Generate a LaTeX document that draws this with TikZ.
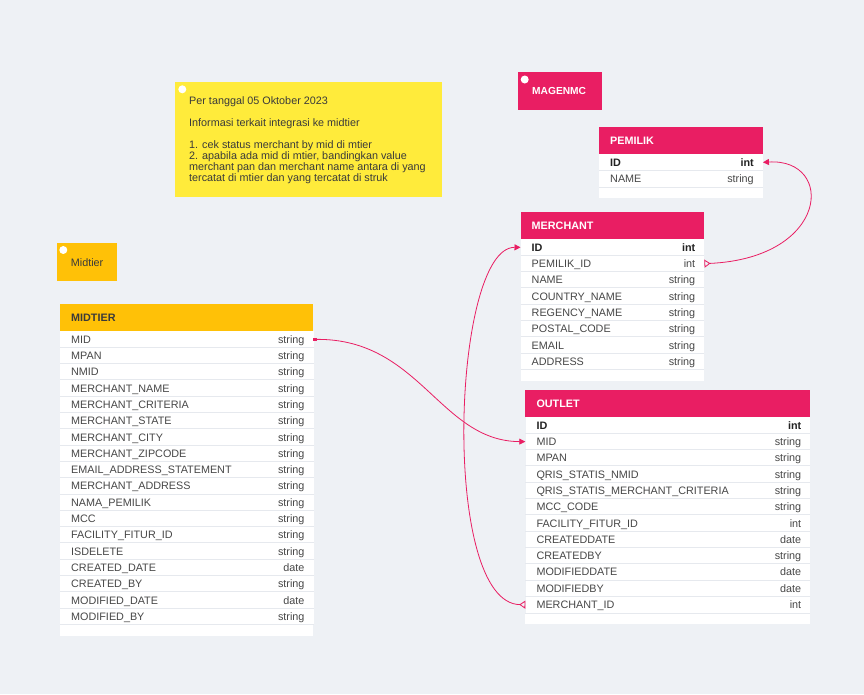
\documentclass[tikz,border=0pt]{standalone}
\usepackage{fontspec}
\setmainfont{Liberation Sans}
\usetikzlibrary{arrows.meta}
\definecolor{bg}{HTML}{EEF1F5}
\definecolor{pinkc}{HTML}{E91E63}
\definecolor{amberc}{HTML}{FFC107}
\definecolor{notey}{HTML}{FFEB3B}
\definecolor{txt}{HTML}{474747}
\definecolor{darkc}{HTML}{222222}
\definecolor{hdrdark}{HTML}{3A3A3A}
\definecolor{sepc}{HTML}{E6E9EE}
\newcommand\rowfont{\fontsize{10.8}{13}\selectfont}
\tikzset{
  rowcell/.style={fill=white, draw=none, inner sep=0pt, minimum height=16.3pt},
  rowtext/.style={font=\rowfont, text=txt, inner sep=0pt},
  hdrtext/.style={font=\rowfont\bfseries, inner sep=0pt},
  notetext/.style={font=\rowfont, text=hdrdark, inner sep=0pt, anchor=base west},
  tagdot/.style={fill=white, circle, inner sep=0pt, minimum size=8pt},
  conn/.style={draw=pinkc, line width=0.8pt},
  onetip/.style={-{Triangle[length=6pt,width=6pt]}},
  manytip/.style={{Triangle[open,reversed,length=6pt,width=8pt]}-{Triangle[length=6pt,width=6pt]}}
}
% #1 id, #2 x, #3 y, #4 width, #5 header fill, #6 header text colour, #7 title, #8 rows, #9 number of rows
\newcommand\erdtab[9]{%
  \fill[#5] (#2,#3) rectangle ++(#4,27);
  \node[hdrtext, text=#6, anchor=base west] (#1-title) at ({#2+11},{#3+17.5}) {#7};
  \foreach \nm/\ty/\st [count=\i] in {#8} {
    \node[rowcell, minimum width=#4pt, anchor=north west] (#1-\i) at ({#2},{#3+27+(\i-1)*16.3}) {};
    \ifnum\i>1 \draw[sepc, line width=1pt] (#1-\i.north west) -- (#1-\i.north east);\fi
    \node[rowtext, anchor=base west] (#1-\i-n) at ([xshift=11pt,yshift=-3.9pt]#1-\i.west) {\st\nm};
    \node[rowtext, anchor=base east] (#1-\i-t) at ([xshift=-9pt,yshift=-3.9pt]#1-\i.east) {\st\ty};
  }
  \fill[white] (#1-#9.south west) rectangle ++(#4,11);
  \draw[sepc, line width=1pt] (#1-#9.south west) -- (#1-#9.south east);
}
\begin{document}
\begin{tikzpicture}[x=1pt,y=-1pt]
\fill[bg] (0,0) rectangle (864,694);
\useasboundingbox (0,0) rectangle (864,694);

% note
\fill[notey] (175,82) rectangle (442,196.5);
\node[tagdot] (notedot) at (182.3,89.3) {};
\node[notetext] (n1) at (189,104) {Per tanggal 05 Oktober 2023};
\node[notetext] (n2) at (189,126) {Informasi terkait integrasi ke midtier};
\node[notetext] (n3) at (189,148) {1. cek status merchant by mid di mtier};
\node[notetext] (n4) at (189,159.3) {2. apabila ada mid di mtier, bandingkan value};
\node[notetext] (n5) at (189,170.6) {merchant pan dan merchant name antara di yang};
\node[notetext] (n6) at (189,181.9) {tercatat di mtier dan yang tercatat di struk};

% tags
\fill[pinkc] (517.5,72.3) rectangle (602,110);
\node[tagdot] (magdot) at (524.7,79.5) {};
\node[font=\fontsize{10.2}{12}\selectfont\bfseries, text=white, inner sep=0pt, anchor=base west] (magenmc) at (532,94.3) {MAGENMC};

\fill[amberc] (56.7,243.3) rectangle (116.7,280.7);
\node[tagdot] (middot) at (63.3,250) {};
\node[font=\rowfont, text=hdrdark, inner sep=0pt, anchor=base west] (midtag) at (70.7,266) {Midtier};

% tables
\erdtab{pemilik}{599}{127}{163.5}{pinkc}{white}{PEMILIK}{ID/int/\bfseries\color{darkc}, NAME/string/\relax}{2}

\erdtab{merchant}{520.5}{212}{183.5}{pinkc}{white}{MERCHANT}{ID/int/\bfseries\color{darkc}, PEMILIK\_ID/int/\relax, NAME/string/\relax, COUNTRY\_NAME/string/\relax, REGENCY\_NAME/string/\relax, POSTAL\_CODE/string/\relax, EMAIL/string/\relax, ADDRESS/string/\relax}{8}

\erdtab{midtier}{60}{304}{253.3}{amberc}{hdrdark}{MIDTIER}{MID/string/\relax, MPAN/string/\relax, NMID/string/\relax, MERCHANT\_NAME/string/\relax, MERCHANT\_CRITERIA/string/\relax, MERCHANT\_STATE/string/\relax, MERCHANT\_CITY/string/\relax, MERCHANT\_ZIPCODE/string/\relax, EMAIL\_ADDRESS\_STATEMENT/string/\relax, MERCHANT\_ADDRESS/string/\relax, NAMA\_PEMILIK/string/\relax, MCC/string/\relax, FACILITY\_FITUR\_ID/string/\relax, ISDELETE/string/\relax, CREATED\_DATE/date/\relax, CREATED\_BY/string/\relax, MODIFIED\_DATE/date/\relax, MODIFIED\_BY/string/\relax}{18}

\erdtab{outlet}{525.3}{390}{284.7}{pinkc}{white}{OUTLET}{ID/int/\bfseries\color{darkc}, MID/string/\relax, MPAN/string/\relax, QRIS\_STATIS\_NMID/string/\relax, QRIS\_STATIS\_MERCHANT\_CRITERIA/string/\relax, MCC\_CODE/string/\relax, FACILITY\_FITUR\_ID/int/\relax, CREATEDDATE/date/\relax, CREATEDBY/string/\relax, MODIFIEDDATE/date/\relax, MODIFIEDBY/date/\relax, MERCHANT\_ID/int/\relax}{12}

% connectors
\node[fill=pinkc, inner sep=0pt, minimum size=3.5pt] (midsq) at ([xshift=1.5pt]midtier-1.east) {};
\draw[conn, onetip] (midsq.east) .. controls (420,339) and (440,441) .. (outlet-2.west);
\draw[conn, manytip] (outlet-12.west) .. controls (440,604) and (452,247) .. (merchant-1.west);
\draw[conn, manytip] (merchant-2.east) .. controls (830,258) and (835,158) .. (pemilik-1.east);
\end{tikzpicture}
\end{document}
